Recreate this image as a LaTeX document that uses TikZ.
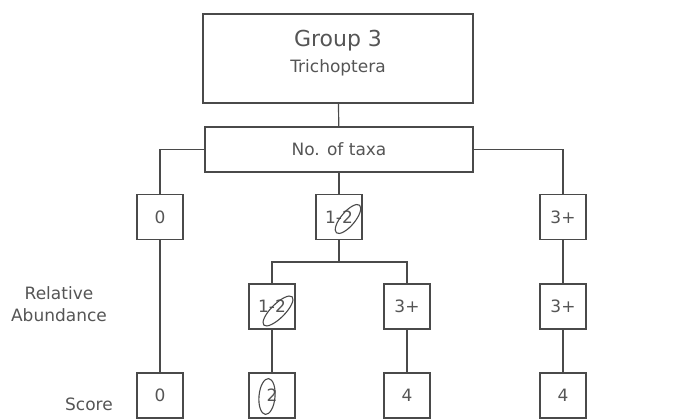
\documentclass[tikz,border=0pt]{standalone}
\usepackage{fontspec}
\setmainfont{DejaVu Sans}
\usetikzlibrary{calc, positioning}
\definecolor{linegray}{HTML}{4A4A4A}
\definecolor{textgray}{HTML}{555555}

\begin{document}
\begin{tikzpicture}[x=1pt, y=1pt,
    box/.style={draw=linegray, line width=1.2pt, minimum width=46pt, minimum height=45pt,
                inner sep=0pt, text=textgray, font=\fontsize{17}{19}\selectfont},
    wide/.style={box, minimum height=45pt, minimum width=268pt},
    lbl/.style={text=textgray, font=\fontsize{17}{22}\selectfont, align=center},
    link/.style={draw=linegray, line width=1.2pt},
    pencil/.style={draw=linegray, line width=1.1pt}]
    \useasboundingbox (0,0) rectangle (676,419);
    % heading and question
    \node[box, minimum width=270pt, minimum height=89pt] (group) at (338, 360.5) {};
    \node[lbl] (grouptext) at ([yshift=5pt]group.center)
        {{\fontsize{22}{24}\selectfont Group 3}\\[4pt]{\fontsize{17}{20}\selectfont Trichoptera}};
    \node[wide] (taxa) at (339, 269.5) {No. of taxa};
    % number of taxa
    \node[box] (t0) at (160, 202) {0};
    \node[box] (t12) at (339, 202) {1-2};
    \node[box] (t3) at (563, 202) {3+};
    % relative abundance
    \node[box] (a12) at (272, 112.5) {1-2};
    \node[box] (a3) at (407, 112.5) {3+};
    \node[box] (b3) at (563, 112.5) {3+};
    % scores
    \node[box] (s0) at (160, 23.5) {0};
    \node[box] (s2) at (272, 23.5) {2};
    \node[box] (s4) at (407, 23.5) {4};
    \node[box] (s5) at (563, 23.5) {4};
    % row labels
    \node[lbl] (rel) at (59, 115) {Relative\\Abundance};
    \node[lbl] (score) at (89, 15) {Score};
    % connectors
    \coordinate (split) at (339, 157);
    \draw[link] (group) -- (taxa);
    \draw[link] (taxa.west) -| (t0);
    \draw[link] (taxa) -- (t12);
    \draw[link] (taxa.east) -| (t3);
    \draw[link] (t0) -- (s0);
    \draw[link] (t12) -- (split);
    \draw[link] (split) -| (a12);
    \draw[link] (split) -| (a3);
    \draw[link] (a12) -- (s2);
    \draw[link] (a3) -- (s4);
    \draw[link] (t3) -- (b3);
    \draw[link] (b3) -- (s5);
    % pencil rings
    \draw[pencil, rotate around={50:(348,200)}] (348,200) ellipse [x radius=18, y radius=7];
    \draw[pencil, rotate around={45:(278,108)}] (278,108) ellipse [x radius=20, y radius=7];
    \draw[pencil, rotate around={-5:(267,22.5)}] (267,22.5) ellipse [x radius=8, y radius=18];
\end{tikzpicture}
\end{document}
